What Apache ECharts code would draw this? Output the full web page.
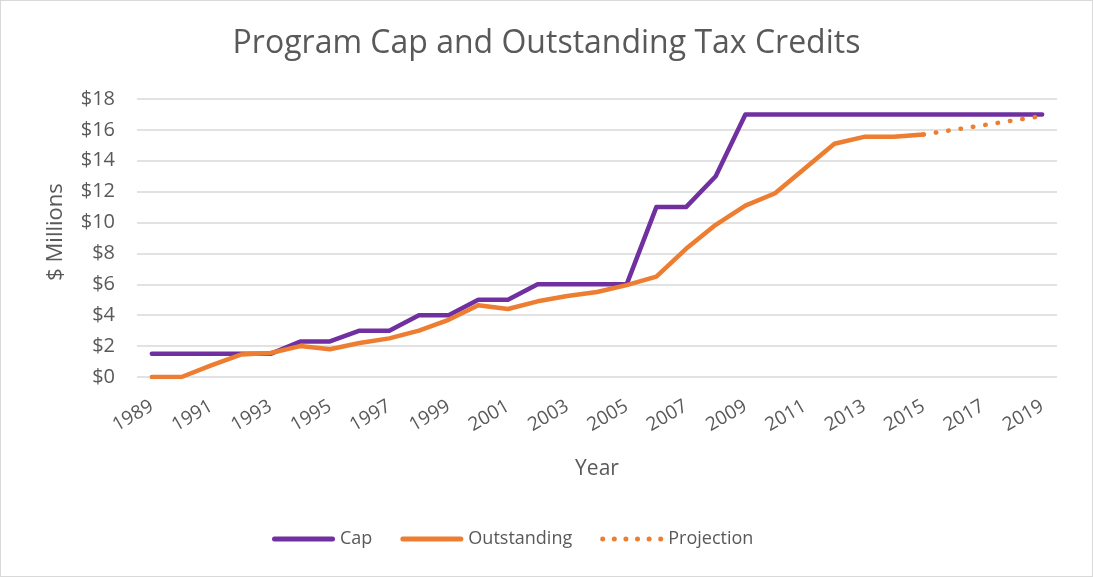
<!DOCTYPE html>
<html>
<head>
<meta charset="utf-8">
<script src="https://cdn.jsdelivr.net/npm/echarts@6/dist/echarts.min.js"></script>
<style>
  html, body { margin: 0; padding: 0; background: #fff; }
  #chart { width: 1091px; height: 575px; border: 1px solid #d9d9d9; }
</style>
</head>
<body>
<div id="chart"></div>
<script>
// years on the x axis
const years = [];
for (let y = 1989; y <= 2019; y++) years.push(String(y));

// $ millions
const capValues = [1.5, 1.5, 1.5, 1.5, 1.5, 2.3, 2.3, 3.0, 3.0, 4.0, 4.0, 5.0, 5.0, 6.0, 6.0,
  6.0, 6.0, 11.0, 11.0, 13.0, 17.0, 17.0, 17.0, 17.0, 17.0, 17.0, 17.0, 17.0, 17.0, 17.0, 17.0];
const outstandingValues = [0, 0, 0.75, 1.45, 1.55, 2.0, 1.8, 2.2, 2.5, 3.0, 3.7, 4.65, 4.4, 4.9, 5.25,
  5.5, 5.95, 6.5, 8.3, 9.85, 11.1, 11.9, 13.5, 15.1, 15.55, 15.55, 15.7, null, null, null, null];
const projectionValues = [null, null, null, null, null, null, null, null, null, null, null, null, null, null, null,
  null, null, null, null, null, null, null, null, null, null, null, 15.7, 16.0, 16.3, 16.6, 16.9];

const FONT = 'Open Sans';
const GREY = '#595959';

// legend icons: a solid bar and a row of six dots
const barIcon = 'path://M2.5,0L60.5,0A2.5,2.5 0 0 1 60.5,5L2.5,5A2.5,2.5 0 0 1 2.5,0Z';
let dotPath = 'path://';
for (let i = 0; i < 6; i++) {
  const cx = 2.5 + i * 11.6;
  dotPath += 'M' + (cx - 2.5) + ',2.5a2.5,2.5 0 1,0 5,0a2.5,2.5 0 1,0 -5,0Z';
}

const chart = echarts.init(document.getElementById('chart'));
chart.setOption({
  animation: false,
  textStyle: { fontFamily: FONT, color: GREY },
  title: {
    text: 'Program Cap and Outstanding Tax Credits',
    left: 'center',
    top: 22,
    textStyle: { fontFamily: FONT, fontSize: 32, fontWeight: 'normal', color: GREY }
  },
  legend: {
    bottom: 23,
    left: 266,
    itemWidth: 63,
    itemHeight: 5,
    itemGap: 28,
    textStyle: { fontFamily: FONT, fontSize: 18, color: GREY },
    data: [
      { name: 'Cap', icon: barIcon },
      { name: 'Outstanding', icon: barIcon },
      { name: 'Projection', icon: dotPath }
    ]
  },
  grid: { left: 136, right: 35, top: 98, bottom: 199 },
  xAxis: {
    type: 'category',
    data: years,
    boundaryGap: true,
    name: 'Year',
    nameLocation: 'middle',
    nameGap: 82,
    nameTextStyle: { fontSize: 21, color: GREY },
    axisLine: { show: false },
    axisTick: { show: false },
    axisLabel: { interval: 1, rotate: 30, fontSize: 19, color: GREY, margin: 28 }
  },
  yAxis: {
    type: 'value',
    min: 0,
    max: 18,
    interval: 2,
    name: '$ Millions',
    nameLocation: 'middle',
    nameGap: 70,
    nameTextStyle: { fontSize: 22, color: GREY, padding: [0, 0, 0, 12] },
    axisLabel: { formatter: '${value}', fontSize: 20, color: GREY, margin: 22 },
    splitLine: { lineStyle: { color: '#d9d9d9', width: 1.5 } }
  },
  series: [
    {
      name: 'Cap',
      type: 'line',
      data: capValues,
      symbol: 'none',
      color: '#7030A0',
      lineStyle: { width: 4.5, cap: 'round', join: 'round' }
    },
    {
      name: 'Outstanding',
      type: 'line',
      data: outstandingValues,
      symbol: 'none',
      color: '#ED7D31',
      lineStyle: { width: 4.5, cap: 'round', join: 'round' }
    },
    {
      name: 'Projection',
      type: 'line',
      data: projectionValues,
      symbol: 'none',
      color: '#ED7D31',
      lineStyle: { width: 4.5, type: [0.5, 12], cap: 'round' }
    }
  ]
});
</script>
</body>
</html>
